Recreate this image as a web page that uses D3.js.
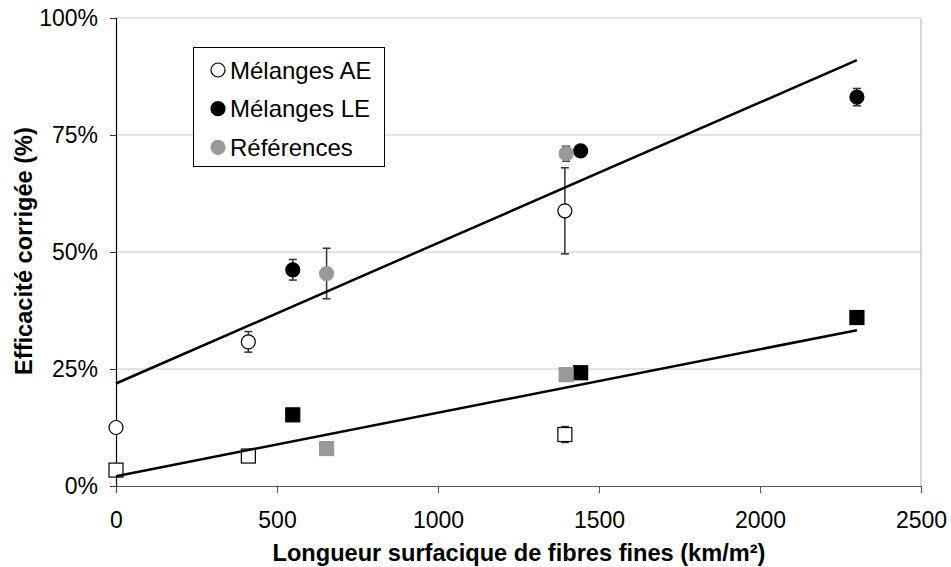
<!DOCTYPE html>
<html><head><meta charset="utf-8">
<script src="https://cdn.jsdelivr.net/npm/d3@7"></script>
<style>body{margin:0;background:#fff}svg{display:block}text{font-family:"Liberation Sans",Arial,sans-serif}</style>
</head><body><svg id="c" width="951" height="567"></svg>
<script>
// x values (km/m²)
const aeX = [0, 411, 1394];
const leX = [549, 1443, 2301];
const refX = [654, 1398];
// circles (upper group) values in %, with error
const aeCirc = [12.5, 30.8, 58.8];
const aeCircErr = [0, 2.2, 9.2];
const leCirc = [46.2, 71.6, 83.1];
const leCircErr = [2.2, 0, 1.85];
const refCirc = [45.4, 71.0];
const refCircErr = [5.4, 1.6];
// squares (lower group)
const aeSq = [3.4, 6.4, 11.0];
const aeSqErr = [0, 0, 1.7];
const leSq = [15.2, 24.2, 36.0];
const refSq = [8.0, 23.8];
// trend lines: [x0, y0, x1, y1]
const trendUpper = [0, 21.9, 2301, 91.0];
const trendLower = [0, 2.1, 2301, 33.3];
const xTicks = [0, 500, 1000, 1500, 2000, 2500];
const yTicks = [0, 25, 50, 75, 100];
const legendLabels = ["Mélanges AE", "Mélanges LE", "Références"];

const svg = d3.select("#c");
const m = {l:116, r:921, t:18, b:486};
const x = d3.scaleLinear().domain([0,2500]).range([m.l, m.r]);
const y = d3.scaleLinear().domain([0,100]).range([m.b, m.t]);

// gridlines
svg.append("g").selectAll("line").data(yTicks.filter(d=>d>0)).join("line")
  .attr("x1", m.l).attr("x2", m.r).attr("y1", d=>y(d)).attr("y2", d=>y(d))
  .attr("stroke", "#c8c8c8").attr("stroke-width", 1);
// right border
svg.append("line").attr("x1", m.r).attr("x2", m.r).attr("y1", m.t).attr("y2", m.b)
  .attr("stroke", "#c8c8c8").attr("stroke-width", 1.5);

// axes
const xAxis = d3.axisBottom(x).tickValues(xTicks).tickSize(7).tickPadding(19).tickFormat(d3.format("d"));
const gx = svg.append("g").attr("transform", `translate(0,${m.b})`).call(xAxis);
gx.select(".domain").attr("stroke", "#555").attr("stroke-width", 1.2);
gx.selectAll(".tick line").attr("stroke", "#555");
gx.selectAll("text").attr("font-size", 23).attr("fill", "#000").attr("font-family", "Liberation Sans, Arial");

const yAxis = d3.axisLeft(y).tickValues(yTicks).tickSize(6).tickPadding(12).tickFormat(d => d + "%");
const gy = svg.append("g").attr("transform", `translate(${m.l},0)`).call(yAxis);
gy.select(".domain").attr("stroke", "#000").attr("stroke-width", 1.2);
gy.selectAll(".tick line").attr("stroke", "#333");
gy.selectAll("text").attr("font-size", 23).attr("fill", "#000").attr("font-family", "Liberation Sans, Arial");

// axis titles
svg.append("text").attr("x", 519).attr("y", 561).attr("text-anchor", "middle")
  .attr("font-size", 23.6).attr("font-weight", "bold").text("Longueur surfacique de fibres fines (km/m²)");
svg.append("text").attr("transform", `translate(32,251) rotate(-90)`).attr("text-anchor", "middle")
  .attr("font-size", 23.6).attr("font-weight", "bold").text("Efficacité corrigée (%)");

// error bars
function errBars(xs, vs, es) {
  const data = xs.map((d,i)=>({x:d, v:vs[i], e:es[i]})).filter(d=>d.e>0);
  const g = svg.append("g").attr("stroke", "#333").attr("stroke-width", 1.5);
  data.forEach(d => {
    g.append("line").attr("x1", x(d.x)).attr("x2", x(d.x)).attr("y1", y(d.v+d.e)).attr("y2", y(d.v-d.e));
    g.append("line").attr("x1", x(d.x)-4).attr("x2", x(d.x)+4).attr("y1", y(d.v+d.e)).attr("y2", y(d.v+d.e));
    g.append("line").attr("x1", x(d.x)-4).attr("x2", x(d.x)+4).attr("y1", y(d.v-d.e)).attr("y2", y(d.v-d.e));
  });
}
errBars(aeX, aeCirc, aeCircErr);
errBars(leX, leCirc, leCircErr);
errBars(refX, refCirc, refCircErr);
errBars(aeX, aeSq, aeSqErr);

function circles(xs, vs, fill, stroke) {
  svg.append("g").selectAll("circle").data(xs.map((d,i)=>[d, vs[i]])).join("circle")
    .attr("cx", d=>x(d[0])).attr("cy", d=>y(d[1])).attr("r", 7)
    .attr("fill", fill).attr("stroke", stroke).attr("stroke-width", 1.2);
}
function squares(xs, vs, fill, stroke) {
  svg.append("g").selectAll("rect").data(xs.map((d,i)=>[d, vs[i]])).join("rect")
    .attr("x", d=>x(d[0])-7).attr("y", d=>y(d[1])-7).attr("width", 14).attr("height", 14)
    .attr("fill", fill).attr("stroke", stroke).attr("stroke-width", 1.2);
}
squares(aeX, aeSq, "#fff", "#000");
squares(leX, leSq, "#000", "#000");
squares(refX, refSq, "#999", "#999");
circles(aeX, aeCirc, "#fff", "#000");
circles(leX, leCirc, "#000", "#000");
circles(refX, refCirc, "#999", "#999");

// trend lines
[trendUpper, trendLower].forEach(t => {
  svg.append("line").attr("x1", x(t[0])).attr("y1", y(t[1])).attr("x2", x(t[2])).attr("y2", y(t[3]))
    .attr("stroke", "#000").attr("stroke-width", 2.5);
});

// legend
const lg = svg.append("g");
lg.append("rect").attr("x", 193.5).attr("y", 47.5).attr("width", 191).attr("height", 119)
  .attr("fill", "#fff").attr("stroke", "#000").attr("stroke-width", 1);
const lgFill = ["#fff", "#000", "#999"], lgStroke = ["#000", "#000", "#999"];
legendLabels.forEach((t,i) => {
  const cy = 70 + i*38.7;
  lg.append("circle").attr("cx", 218).attr("cy", cy).attr("r", 7)
    .attr("fill", lgFill[i]).attr("stroke", lgStroke[i]).attr("stroke-width", 1.2);
  lg.append("text").attr("x", 230).attr("y", cy + 8.5).attr("font-size", 24).text(t);
});
</script></body></html>
